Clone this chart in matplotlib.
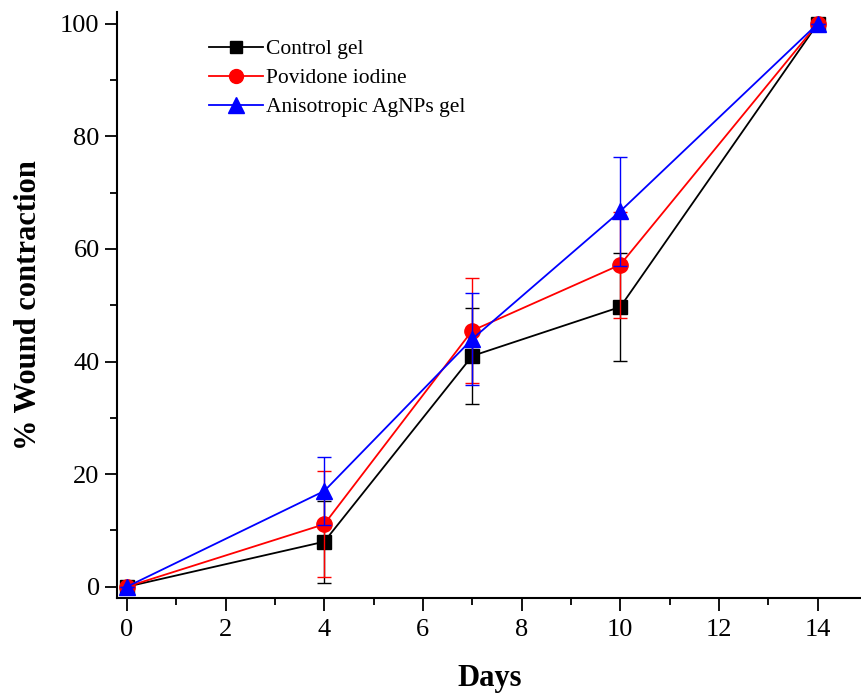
import matplotlib.pyplot as plt
from matplotlib.lines import Line2D
from matplotlib.ticker import MultipleLocator

plt.rcParams['font.family'] = ['Liberation Serif', 'DejaVu Serif']

days = [0, 4, 7, 10, 14]

control = [0, 8.0, 41.0, 49.7, 100]
control_err = [0, 7.3, 8.5, 9.6, 0]

povidone = [0, 11.1, 45.5, 57.2, 100]
povidone_err = [0, 9.4, 9.3, 9.4, 0]

agnps = [0, 17.0, 44.0, 66.7, 100]
agnps_err = [0, 6.1, 8.2, 9.7, 0]

labels = ['Control gel', 'Povidone iodine', 'Anisotropic AgNPs gel']
colors = ['black', 'red', 'blue']
markers = ['s', 'o', '^']
msizes = [10, 11, 12]

fig = plt.figure(figsize=(8.62, 6.95), dpi=100)
ax = fig.add_axes([117 / 862, 1 - 598 / 695, 745 / 862, 586 / 695])

series = [(control, control_err), (povidone, povidone_err), (agnps, agnps_err)]
handles = []
for i, (vals, errs) in enumerate(series):
    ax.errorbar(days, vals, yerr=errs, color=colors[i], marker=markers[i], markersize=msizes[i],
                lw=1.3, elinewidth=1, capsize=5, capthick=1, zorder=3 + i)
    handles.append(Line2D([], [], color=colors[i], marker=markers[i], markersize=msizes[i] - 1,
                          lw=1.3, label=labels[i]))

ax.set_xlim(-0.2, 14.9)
ax.set_ylim(-2, 102.1)
ax.xaxis.set_major_locator(MultipleLocator(2))
ax.xaxis.set_minor_locator(MultipleLocator(1))
ax.yaxis.set_major_locator(MultipleLocator(20))
ax.yaxis.set_minor_locator(MultipleLocator(10))

ax.spines['top'].set_visible(False)
ax.spines['right'].set_visible(False)
ax.spines['left'].set_linewidth(1.5)
ax.spines['bottom'].set_linewidth(1.5)
ax.tick_params(which='major', direction='out', length=9, width=1.3, labelsize=19)
ax.tick_params(axis='x', which='major', pad=6)
ax.tick_params(which='minor', direction='out', length=5, width=1.3)

ax.set_xlabel('Days', fontsize=22, fontweight='bold', labelpad=17)
ax.set_ylabel('% Wound contraction', fontsize=22, fontweight='bold', labelpad=12)

ax.legend(handles=handles, loc='upper left', bbox_to_anchor=(0.098, 0.987), frameon=False,
          fontsize=15.5, handlelength=2.5, handletextpad=0.15, labelspacing=0.42)

fig.savefig('out.png', dpi=100)
